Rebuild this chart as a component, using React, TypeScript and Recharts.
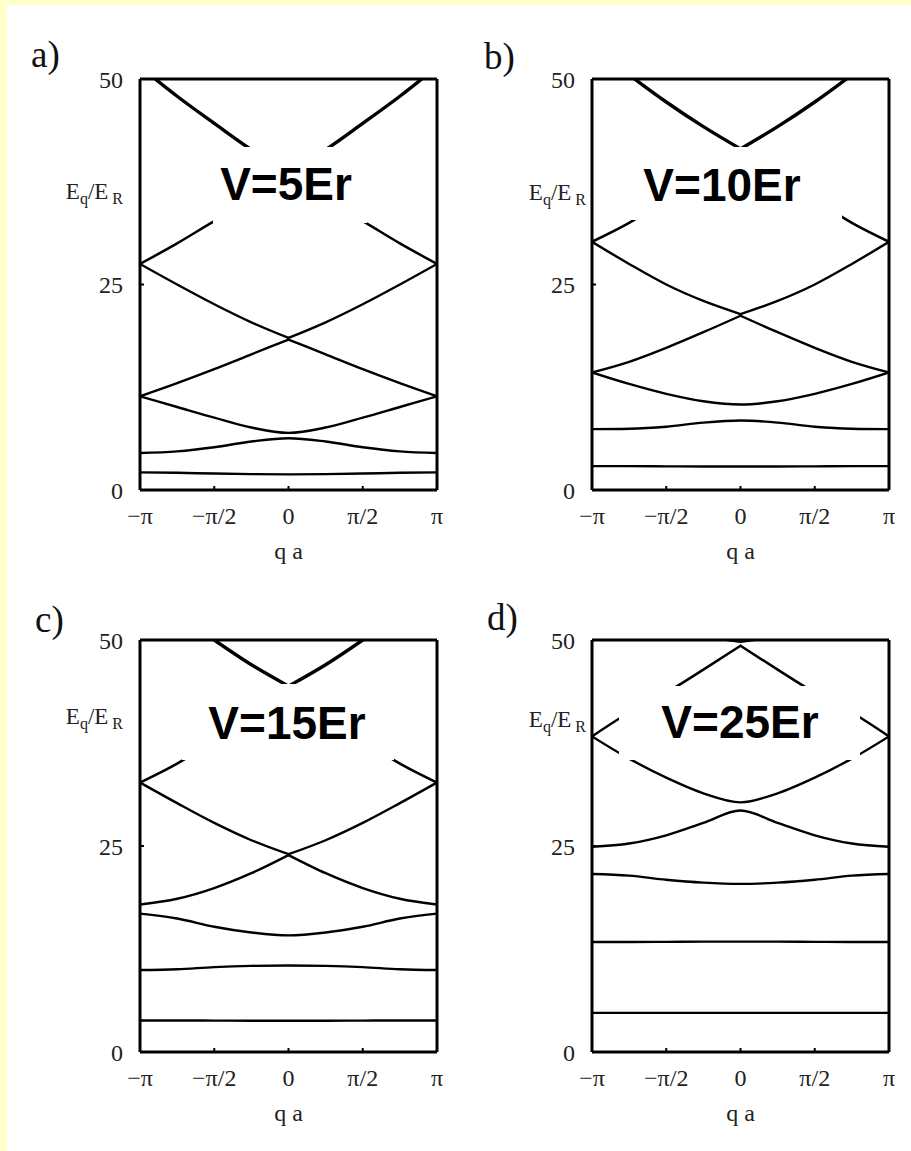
import React from 'react';
import { LineChart, Line, XAxis, YAxis } from 'recharts';

// quasi-momentum sample points (in units of pi / a)
const qa = [-1, -0.75, -0.5, -0.25, 0, 0.25, 0.5, 0.75, 1];
const qTicks = [-1, -0.5, 0, 0.5, 1];
const qTickLabels = ['\u2212\u03c0', '\u2212\u03c0/2', '0', '\u03c0/2', '\u03c0'];
const eTicks = [0, 25, 50];

// a) V = 5 Er
const a1 = [2.15, 2.1, 2.0, 1.93, 1.9, 1.93, 2.0, 2.1, 2.15];
const a2 = [4.5, 4.7, 5.2, 5.9, 6.3, 5.9, 5.2, 4.7, 4.5];
const a3 = [11.4, 10.1, 8.8, 7.6, 6.95, 7.6, 8.8, 10.1, 11.4];
const a4 = [11.4, 13.0, 14.7, 16.5, 18.3, 16.5, 14.7, 13.0, 11.4];
const a5 = [27.5, 25.0, 22.6, 20.4, 18.5, 20.4, 22.6, 25.0, 27.5];
const a6 = [27.5, 30.0, 32.7, 35.2, 37.4, 35.2, 32.7, 30.0, 27.5];
const a7 = [51.5, 47.9, 44.6, 41.4, 38.7, 41.4, 44.6, 47.9, 51.5];

// b) V = 10 Er
const b1 = [2.9, 2.9, 2.88, 2.86, 2.85, 2.86, 2.88, 2.9, 2.9];
const b2 = [7.4, 7.45, 7.7, 8.2, 8.45, 8.2, 7.7, 7.45, 7.4];
const b3 = [14.3, 12.9, 11.7, 10.8, 10.4, 10.8, 11.7, 12.9, 14.3];
const b4 = [14.3, 15.6, 17.3, 19.2, 21.2, 19.2, 17.3, 15.6, 14.3];
const b5 = [30.2, 27.5, 25.0, 23.0, 21.4, 23.0, 25.0, 27.5, 30.2];
const b6 = [30.2, 32.5, 35.3, 38.0, 40.5, 38.0, 35.3, 32.5, 30.2];
const b7 = [54.0, 50.5, 47.2, 44.2, 41.5, 44.2, 47.2, 50.5, 54.0];

// c) V = 15 Er
const c1 = [3.82, 3.82, 3.81, 3.8, 3.8, 3.8, 3.81, 3.82, 3.82];
const c2 = [9.95, 10.05, 10.3, 10.45, 10.5, 10.45, 10.3, 10.05, 9.95];
const c3 = [16.8, 16.2, 15.2, 14.5, 14.15, 14.5, 15.2, 16.2, 16.8];
const c4 = [17.9, 18.6, 19.9, 21.7, 23.9, 21.7, 19.9, 18.6, 17.9];
const c5 = [32.7, 30.2, 27.8, 25.7, 24.0, 25.7, 27.8, 30.2, 32.7];
const c6 = [32.7, 35.0, 37.8, 40.5, 43.0, 40.5, 37.8, 35.0, 32.7];
const c7 = [56.5, 53.2, 50.0, 47.0, 44.4, 47.0, 50.0, 53.2, 56.5];

// d) V = 25 Er
const d1 = [4.75, 4.75, 4.75, 4.75, 4.75, 4.75, 4.75, 4.75, 4.75];
const d2 = [13.35, 13.35, 13.37, 13.4, 13.4, 13.4, 13.37, 13.35, 13.35];
const d3 = [21.6, 21.4, 20.9, 20.55, 20.4, 20.55, 20.9, 21.4, 21.6];
const d4 = [24.9, 25.3, 26.3, 27.8, 29.3, 27.8, 26.3, 25.3, 24.9];
const d5 = [38.3, 35.6, 33.3, 31.4, 30.3, 31.4, 33.3, 35.6, 38.3];
const d6 = [38.3, 41.2, 43.6, 46.4, 49.3, 46.4, 43.6, 41.2, 38.3];
const d7 = [58.5, 55.3, 52.6, 50.6, 49.8, 50.6, 52.6, 55.3, 58.5];

const CENTER = 4; // index of q = 0

// each band becomes one smooth curve, or two halves when it has a cusp at q = 0
const buildRows = (bands: number[][]) =>
  qa.map((x, i) => {
    const row: Record<string, number | null> = { x };
    bands.forEach((b, k) => {
      row['band' + (k + 1)] = b[i];
      row['band' + (k + 1) + 'L'] = i <= CENTER ? b[i] : null;
      row['band' + (k + 1) + 'R'] = i >= CENTER ? b[i] : null;
    });
    return row;
  });

const panels = [
  {
    key: 'a',
    left: 0,
    top: 0,
    height: 585,
    bands: [a1, a2, a3, a4, a5, a6, a7],
    cusp: [false, false, false, true, true, true, true],
    widths: [2.4, 2.4, 2.4, 2.4, 2.4, 2.5, 3.4],
  },
  {
    key: 'b',
    left: 452,
    top: 0,
    height: 585,
    bands: [b1, b2, b3, b4, b5, b6, b7],
    cusp: [false, false, false, true, true, true, true],
    widths: [2.4, 2.4, 2.4, 2.4, 2.4, 2.5, 3.4],
  },
  {
    key: 'c',
    left: 0,
    top: 561,
    height: 586,
    bands: [c1, c2, c3, c4, c5, c6, c7],
    cusp: [false, false, false, true, true, true, true],
    widths: [2.4, 2.4, 2.4, 2.4, 2.4, 2.5, 3.4],
  },
  {
    key: 'd',
    left: 452,
    top: 561,
    height: 586,
    bands: [d1, d2, d3, d4, d5, d6, d7],
    cusp: [false, false, false, false, false, true, true],
    widths: [2.4, 2.4, 2.4, 2.4, 2.4, 2.5, 2.5],
  },
];

const serif = "'Liberation Serif', 'Times New Roman', serif";
const sans = "'Liberation Sans', Arial, sans-serif";
const axisStroke = { stroke: '#000', strokeWidth: 3 };
const tickStroke = { stroke: '#000', strokeWidth: 2 };

function BandChart(p: (typeof panels)[number]) {
  const data = buildRows(p.bands);
  const keys: { key: string; w: number }[] = [];
  p.bands.forEach((_, k) => {
    const base = 'band' + (k + 1);
    if (p.cusp[k]) {
      keys.push({ key: base + 'L', w: p.widths[k] });
      keys.push({ key: base + 'R', w: p.widths[k] });
    } else {
      keys.push({ key: base, w: p.widths[k] });
    }
  });
  return (
    <div style={{ position: 'absolute', left: p.left, top: p.top }}>
      <LineChart
        width={459}
        height={p.height}
        data={data}
        margin={{ top: 78, right: 21, bottom: 0, left: 0 }}
      >
        <XAxis
          dataKey="x"
          type="number"
          domain={[-1, 1]}
          ticks={qTicks}
          interval={0}
          allowDataOverflow
          tickFormatter={(v: number, i: number) => qTickLabels[i]}
          height={95}
          axisLine={axisStroke}
          tickLine={tickStroke}
          tickSize={-4}
          tickMargin={21}
          tick={{ fontFamily: serif, fontSize: 24, fill: '#222' }}
          label={{
            value: 'q a',
            position: 'insideBottom',
            offset: 26,
            fontFamily: serif,
            fontSize: 24,
            fill: '#222',
          }}
        />
        <XAxis
          xAxisId="top"
          orientation="top"
          dataKey="x"
          type="number"
          domain={[-1, 1]}
          ticks={qTicks}
          interval={0}
          height={1}
          axisLine={axisStroke}
          tickLine={tickStroke}
          tickSize={-4}
          tick={false}
        />
        <YAxis
          type="number"
          domain={[0, 50]}
          ticks={eTicks}
          interval={0}
          allowDataOverflow
          width={140}
          axisLine={axisStroke}
          tickLine={tickStroke}
          tickSize={-4}
          tickMargin={21}
          tick={{ fontFamily: serif, fontSize: 24, fill: '#222' }}
        />
        <YAxis
          yAxisId="right"
          orientation="right"
          type="number"
          domain={[0, 50]}
          ticks={eTicks}
          interval={0}
          width={1}
          axisLine={axisStroke}
          tickLine={tickStroke}
          tickSize={-4}
          tick={false}
        />
        {keys.map((s) => (
          <Line
            key={s.key}
            dataKey={s.key}
            type="monotone"
            stroke="#000"
            strokeWidth={s.w}
            strokeLinejoin="round"
            strokeLinecap="round"
            dot={false}
            activeDot={false}
            connectNulls={false}
            isAnimationActive={false}
          />
        ))}
      </LineChart>
    </div>
  );
}

const overlays = [
  { label: 'a)', lx: 31, ly: 67, ex: 123, ey: 199, v: 'V=5Er', rect: [213, 147, 154, 76], tx: 286, ty: 200 },
  { label: 'b)', lx: 484, ly: 69, ex: 586, ey: 200, v: 'V=10Er', rect: [629, 147, 213, 73], tx: 722, ty: 201 },
  { label: 'c)', lx: 35, ly: 632, ex: 123, ey: 724, v: 'V=15Er', rect: [182, 684, 212, 76], tx: 287, ty: 739 },
  { label: 'd)', lx: 487, ly: 630, ex: 586, ey: 727, v: 'V=25Er', rect: [619, 686, 241, 74], tx: 740, ty: 738 },
];

export default function App() {
  return (
    <div
      style={{
        position: 'absolute',
        left: 0,
        top: 0,
        width: 911,
        height: 1151,
        overflow: 'hidden',
        background: '#ffffcc',
      }}
    >
      <div
        style={{
          position: 'absolute',
          left: 7,
          top: 5,
          right: 0,
          bottom: 0,
          background: '#ffffff',
        }}
      />
      {panels.map((p) => (
        <BandChart key={p.key} {...p} />
      ))}
      <svg
        width={911}
        height={1151}
        style={{ position: 'absolute', left: 0, top: 0, pointerEvents: 'none' }}
      >
        {overlays.map((o) => (
          <g key={o.label}>
            <text x={o.lx} y={o.ly} fontFamily={serif} fontSize={37} fill="#111">
              {o.label}
            </text>
            <text x={o.ex} y={o.ey} fontFamily={serif} fontSize={23} fill="#222" textAnchor="end">
              E
              <tspan dy={5} fontSize={16}>q</tspan>
              <tspan dy={-5}>/E</tspan>
              <tspan dx={4} dy={5} fontSize={16}>R</tspan>
            </text>
            <rect x={o.rect[0]} y={o.rect[1]} width={o.rect[2]} height={o.rect[3]} fill="#fff" />
            <text
              x={o.tx}
              y={o.ty}
              fontFamily={sans}
              fontWeight="bold"
              fontSize={46}
              fill="#000"
              textAnchor="middle"
            >
              {o.v}
            </text>
          </g>
        ))}
      </svg>
    </div>
  );
}
